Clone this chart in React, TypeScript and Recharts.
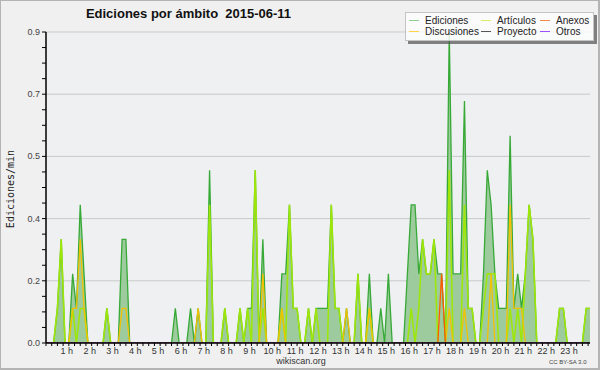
import React from "react";
import { ComposedChart, Area, Line, XAxis, YAxis, CartesianGrid } from "recharts";

// one value every 10 minutes, 00:00 .. 23:50 (edits per minute)
const EDICIONES = [
  0, 0, 0, 0.1, 0.3, 0, 0, 0.2, 0.1, 0.4, 0.2, 0,
  0, 0, 0, 0, 0.1, 0, 0, 0, 0.3, 0.3, 0, 0,
  0, 0, 0, 0, 0, 0, 0, 0, 0, 0, 0.1, 0,
  0, 0, 0.1, 0, 0.1, 0, 0, 0.5, 0, 0, 0, 0.1,
  0, 0, 0, 0.1, 0, 0.1, 0.1, 0.5, 0, 0.3, 0, 0,
  0, 0, 0.2, 0.2, 0.4, 0.1, 0.1, 0, 0, 0.1, 0, 0.1,
  0.1, 0.1, 0.1, 0.4, 0.1, 0.1, 0, 0.1, 0, 0, 0.2, 0,
  0, 0.2, 0, 0, 0.1, 0, 0.2, 0, 0, 0, 0, 0.2,
  0.4, 0.4, 0.2, 0.3, 0.2, 0.2, 0.3, 0.2, 0.2, 0, 0.9, 0.2,
  0.2, 0.2, 0.7, 0.1, 0.1, 0, 0, 0.2, 0.5, 0.4, 0.2, 0.1,
  0.1, 0.1, 0.6, 0.1, 0.2, 0.1, 0.2, 0.4, 0.3, 0, 0, 0,
  0, 0, 0, 0.1, 0.1, 0, 0, 0, 0, 0, 0.1, 0.1,
];

const ARTICULOS = [
  0, 0, 0, 0.1, 0.3, 0, 0, 0.1, 0, 0.1, 0.1, 0,
  0, 0, 0, 0, 0.1, 0, 0, 0, 0, 0, 0, 0,
  0, 0, 0, 0, 0, 0, 0, 0, 0, 0, 0, 0,
  0, 0, 0, 0, 0, 0, 0, 0.4, 0, 0, 0, 0.1,
  0, 0, 0, 0.1, 0, 0.1, 0, 0.5, 0, 0.1, 0, 0,
  0, 0, 0.1, 0, 0.4, 0.1, 0.1, 0, 0, 0.1, 0, 0.1,
  0, 0, 0, 0.4, 0.1, 0.1, 0, 0, 0, 0, 0.2, 0,
  0, 0.1, 0, 0, 0, 0, 0, 0, 0, 0, 0, 0,
  0.1, 0, 0.1, 0.3, 0.2, 0.2, 0.3, 0, 0, 0, 0.5, 0,
  0, 0, 0.4, 0.1, 0.1, 0, 0, 0.1, 0.2, 0.2, 0.2, 0,
  0, 0, 0.1, 0, 0.1, 0, 0.2, 0.4, 0.3, 0, 0, 0,
  0, 0, 0, 0.1, 0.1, 0, 0, 0, 0, 0, 0.1, 0.1,
];

const DISCUSIONES = [
  0, 0, 0, 0, 0, 0, 0, 0.1, 0.1, 0.3, 0.1, 0,
  0, 0, 0, 0, 0, 0, 0, 0, 0.1, 0.1, 0, 0,
  0, 0, 0, 0, 0, 0, 0, 0, 0, 0, 0, 0,
  0, 0, 0, 0, 0.1, 0, 0, 0, 0, 0, 0, 0,
  0, 0, 0, 0, 0, 0, 0, 0, 0, 0.2, 0, 0,
  0, 0, 0.1, 0, 0, 0, 0, 0, 0, 0, 0, 0,
  0, 0, 0, 0, 0, 0, 0, 0.1, 0, 0, 0, 0,
  0, 0.1, 0, 0, 0, 0, 0, 0, 0, 0, 0, 0,
  0, 0, 0, 0, 0, 0, 0, 0, 0, 0, 0.1, 0,
  0, 0, 0.1, 0, 0, 0, 0, 0, 0, 0.2, 0, 0,
  0, 0, 0.4, 0.1, 0.1, 0.1, 0, 0, 0, 0, 0, 0,
  0, 0, 0, 0, 0, 0, 0, 0, 0, 0, 0, 0,
];

const ANEXOS = [
  0, 0, 0, 0, 0, 0, 0, 0, 0, 0, 0, 0,
  0, 0, 0, 0, 0, 0, 0, 0, 0, 0, 0, 0,
  0, 0, 0, 0, 0, 0, 0, 0, 0, 0, 0, 0,
  0, 0, 0, 0, 0, 0, 0, 0, 0, 0, 0, 0,
  0, 0, 0, 0, 0, 0, 0, 0, 0, 0, 0, 0,
  0, 0, 0, 0, 0, 0, 0, 0, 0, 0, 0, 0,
  0, 0, 0, 0, 0, 0, 0, 0, 0, 0, 0, 0,
  0, 0, 0, 0, 0, 0, 0, 0, 0, 0, 0, 0,
  0, 0, 0, 0, 0, 0, 0, 0, 0.2, 0, 0, 0,
  0, 0, 0, 0, 0, 0, 0, 0, 0, 0, 0, 0,
  0, 0, 0, 0, 0, 0, 0, 0, 0, 0, 0, 0,
  0, 0, 0, 0, 0, 0, 0, 0, 0, 0, 0, 0,
];

const PROYECTO = [
  0, 0, 0, 0, 0, 0, 0, 0, 0, 0, 0, 0,
  0, 0, 0, 0, 0, 0, 0, 0, 0, 0, 0, 0,
  0, 0, 0, 0, 0, 0, 0, 0, 0, 0, 0, 0,
  0, 0, 0, 0, 0, 0, 0, 0, 0, 0, 0, 0,
  0, 0, 0, 0, 0, 0, 0, 0, 0, 0, 0, 0,
  0, 0, 0, 0, 0, 0, 0, 0, 0, 0, 0, 0,
  0, 0, 0, 0, 0, 0, 0, 0, 0, 0, 0, 0,
  0, 0, 0, 0, 0, 0, 0, 0, 0, 0, 0, 0,
  0, 0, 0, 0, 0, 0, 0, 0, 0, 0, 0, 0,
  0, 0, 0, 0, 0, 0, 0, 0, 0, 0, 0, 0,
  0, 0, 0, 0, 0, 0, 0, 0, 0, 0, 0, 0,
  0, 0, 0, 0, 0, 0, 0, 0, 0, 0, 0, 0,
];

const OTROS = [
  0, 0, 0, 0, 0, 0, 0, 0, 0, 0, 0, 0,
  0, 0, 0, 0, 0, 0, 0, 0, 0, 0, 0, 0,
  0, 0, 0, 0, 0, 0, 0, 0, 0, 0, 0, 0,
  0, 0, 0, 0, 0, 0, 0, 0, 0, 0, 0, 0,
  0, 0, 0, 0, 0, 0, 0, 0, 0, 0, 0, 0,
  0, 0, 0, 0, 0, 0, 0, 0, 0, 0, 0, 0,
  0, 0, 0, 0, 0, 0, 0, 0, 0, 0, 0, 0,
  0, 0, 0, 0, 0, 0, 0, 0, 0, 0, 0, 0,
  0, 0, 0, 0, 0, 0, 0, 0, 0, 0, 0, 0,
  0, 0, 0, 0, 0, 0, 0, 0, 0, 0, 0, 0,
  0, 0, 0, 0, 0, 0, 0, 0, 0, 0, 0, 0,
  0, 0, 0, 0, 0, 0, 0, 0, 0, 0, 0, 0,
];

const HOUR_LABELS = [
  "1 h", "2 h", "3 h", "4 h", "5 h", "6 h", "7 h", "8 h", "9 h", "10 h", "11 h", "12 h",
  "13 h", "14 h", "15 h", "16 h", "17 h", "18 h", "19 h", "20 h", "21 h", "22 h", "23 h",
];

const Y_TICKS = [
  0, 0.045, 0.09, 0.135, 0.18, 0.225, 0.27, 0.315, 0.36, 0.405, 0.45,
  0.495, 0.54, 0.585, 0.63, 0.675, 0.72, 0.765, 0.81, 0.855, 0.9,
];
const Y_MAJOR = [0, 0.18, 0.36, 0.54, 0.72, 0.9];
const Y_LABELS = ["0.0", "0.2", "0.4", "0.5", "0.7", "0.9"];

const LEGEND_NAMES = ["Ediciones", "Artículos", "Anexos", "Discusiones", "Proyecto", "Otros"];

const COLORS = {
  ediciones: "#36a936",
  edicionesFill: "#9ecb9e",
  articulos: "#9ee60a",
  discusiones: "#f2c200",
  anexos: "#ff5a00",
  proyecto: "#555555",
  otros: "#9a3cff",
};

const LEGEND_COLORS = ["#8fd08f", "#d4f06a", "#f08a4a", "#ffd24a", "#555555", "#a050ff"];

// quarter-hour ticks, in 10-minute index units
const X_TICKS = Array.from({ length: 96 }, (_, k) => k * 1.5);

const data = EDICIONES.map((v, i) => ({
  i,
  ediciones: v,
  articulos: ARTICULOS[i],
  discusiones: DISCUSIONES[i],
  anexos: ANEXOS[i],
  proyecto: PROYECTO[i],
  otros: OTROS[i],
}));

const FONT = "'Liberation Sans', Arial, sans-serif";

const XTick = ({ x, y, payload }: any) => {
  const h = payload.value / 6;
  if (Math.abs(h - Math.round(h)) > 1e-6 || h < 1) return null;
  return (
    <text x={x - 2} y={y + 7} textAnchor="middle" fontSize={9} fill="#333" fontFamily={FONT}>
      {HOUR_LABELS[Math.round(h) - 1]}
    </text>
  );
};

const YTick = ({ x, y, payload }: any) => {
  const idx = Y_MAJOR.findIndex((m) => Math.abs(m - payload.value) < 1e-6);
  if (idx < 0) return null;
  return (
    <text x={x} y={y + 3} textAnchor="end" fontSize={9} fill="#444" fontFamily={FONT}>
      {Y_LABELS[idx]}
    </text>
  );
};

function Legend() {
  const cols = [
    [0, 3],
    [1, 4],
    [2, 5],
  ];
  const colX = [3, 75, 134];
  return (
    <div
      style={{
        position: "absolute",
        left: 404,
        top: 11,
        width: 187,
        height: 27,
        background: "rgba(252,252,252,0.82)",
        border: "1px solid #c4c4c4",
        boxShadow: "3px 3px 0 rgba(90,90,90,0.75)",
        fontFamily: FONT,
        fontSize: 10,
        color: "#222",
      }}
    >
      {cols.map((col, c) =>
        col.map((n, r) => (
          <div
            key={n}
            style={{
              position: "absolute",
              left: colX[c],
              top: 2 + r * 11,
              display: "flex",
              alignItems: "center",
              whiteSpace: "nowrap",
              lineHeight: "11px",
            }}
          >
            <span
              style={{
                display: "inline-block",
                width: 10,
                height: 1,
                background: LEGEND_COLORS[n],
                marginRight: 6,
              }}
            />
            {LEGEND_NAMES[n]}
          </div>
        ))
      )}
    </div>
  );
}

export default function App() {
  return (
    <div
      style={{
        position: "absolute",
        left: 0,
        top: 0,
        width: 600,
        height: 370,
        background: "#f0f0f0",
        boxSizing: "border-box",
        border: "1px solid #b4b4b4",
        borderRightWidth: 2,
        borderBottomWidth: 2,
        overflow: "hidden",
      }}
    >
      <div style={{ position: "absolute", left: -1, top: -1 }}>
        <ComposedChart
          width={600}
          height={370}
          data={data}
          margin={{ top: 32, right: 10, left: 6, bottom: 7 }}
        >
          <CartesianGrid
            vertical={false}
            horizontalValues={Y_MAJOR}
            stroke="#c9c9c9"
            fill="#eef0f1"
            fillOpacity={1}
          />
          <XAxis
            type="number"
            dataKey="i"
            domain={[0, 143]}
            ticks={X_TICKS}
            interval={0}
            height={20}
            tickSize={3}
            tickMargin={1}
            tick={<XTick />}
            axisLine={{ stroke: "#000", strokeWidth: 1.5 }}
            tickLine={{ stroke: "#000" }}
            allowDataOverflow
          />
          <YAxis
            type="number"
            domain={[0, 0.9]}
            ticks={Y_TICKS}
            interval={0}
            width={40}
            tickSize={4}
            tickMargin={2}
            tick={<YTick />}
            axisLine={{ stroke: "#000", strokeWidth: 1.5 }}
            tickLine={{ stroke: "#000" }}
            allowDataOverflow
          />
          <Area
            type="linear"
            dataKey="ediciones"
            stroke={COLORS.ediciones}
            strokeWidth={1.3}
            fill={COLORS.edicionesFill}
            fillOpacity={1}
            isAnimationActive={false}
            dot={false}
            activeDot={false}
          />
          <Line type="linear" dataKey="articulos" stroke={COLORS.articulos} strokeWidth={1.6} dot={false} isAnimationActive={false} />
          <Line type="linear" dataKey="discusiones" stroke={COLORS.discusiones} strokeWidth={1.3} dot={false} isAnimationActive={false} />
          <Line type="linear" dataKey="anexos" stroke={COLORS.anexos} strokeWidth={1.3} dot={false} isAnimationActive={false} />
          <Line type="linear" dataKey="proyecto" stroke={COLORS.proyecto} strokeWidth={1} dot={false} isAnimationActive={false} />
          <Line type="linear" dataKey="otros" stroke={COLORS.otros} strokeWidth={1} dot={false} isAnimationActive={false} />
        </ComposedChart>
      </div>

      <div
        style={{
          position: "absolute",
          left: 0,
          top: 5,
          width: 375,
          textAlign: "center",
          fontFamily: FONT,
          fontWeight: "bold",
          fontSize: 13,
          color: "#111",
          whiteSpace: "pre",
        }}
      >
        {"Ediciones por ámbito  2015-06-11"}
      </div>

      <div
        style={{
          position: "absolute",
          left: 9,
          top: 188,
          transform: "translate(-50%, -50%) rotate(-90deg)",
          fontFamily: "'DejaVu Sans Mono', monospace",
          fontSize: 10,
          color: "#222",
          whiteSpace: "nowrap",
        }}
      >
        Ediciones/min
      </div>

      <Legend />

      <div
        style={{
          position: "absolute",
          left: 250,
          top: 355,
          width: 100,
          textAlign: "center",
          fontFamily: FONT,
          fontSize: 9,
          color: "#333",
        }}
      >
        wikiscan.org
      </div>
      <div
        style={{
          position: "absolute",
          left: 548,
          top: 358,
          fontFamily: FONT,
          fontSize: 6,
          color: "#444",
          whiteSpace: "nowrap",
        }}
      >
        CC BY-SA 3.0
      </div>
    </div>
  );
}
